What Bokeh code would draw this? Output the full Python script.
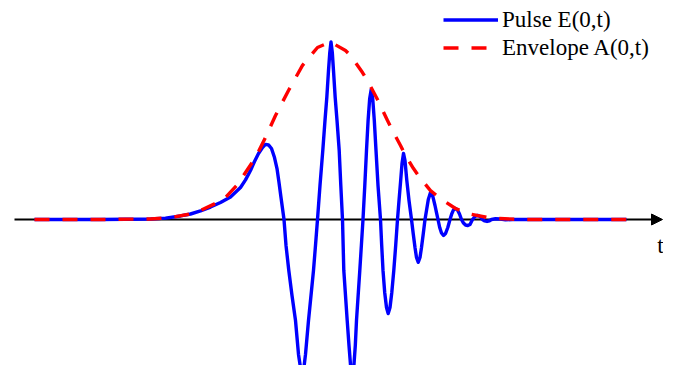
from bokeh.plotting import figure
from bokeh.models import Range1d, Arrow, NormalHead, Label, Legend, LegendItem
from bokeh.embed import file_html
from bokeh.resources import INLINE

# ---- data (t in arbitrary units, field normalised) ----
pulse_t = [-29.6, -23.0, -18.0, -16.5, -15.0, -14.0, -13.0, -12.0, -11.0, -10.0,
           -9.0, -8.5, -8.0, -7.6, -7.2, -6.8, -6.5, -6.2, -5.9, -5.6,
           -5.35, -5.15, -4.95, -4.8, -4.65,
           -4.45, -4.17, -3.85, -3.5, -3.2, -3.0, -2.83, -2.66, -2.5, -2.2, -1.95, -1.7, -1.5, -1.3,
           -1.05, -0.77, -0.55, -0.37, -0.2, -0.07, 0.05, 0.18, 0.3, 0.47, 0.65, 0.87, 1.03, 1.2,
           1.33, 1.67, 1.85, 2.03, 2.17, 2.32, 2.48, 2.6, 2.93, 3.25,
           3.43, 3.6, 3.76, 3.92, 4.07, 4.22, 4.38, 4.55, 4.75, 5.0,
           5.12, 5.25, 5.42, 5.6, 5.77, 5.95, 6.13, 6.33, 6.52, 6.7,
           6.85, 7.0, 7.15, 7.3, 7.45, 7.63, 7.85, 8.1,
           8.27, 8.45, 8.6, 8.77, 8.95, 9.1, 9.28, 9.45,
           9.6, 9.78, 10.0, 10.23, 10.45, 10.6, 10.75,
           10.92, 11.1, 11.3, 11.5, 11.73, 11.95,
           12.12, 12.3, 12.5, 12.7, 12.9, 13.1,
           13.3, 13.5, 13.73, 13.95, 14.2,
           14.45, 14.7, 14.95, 15.2,
           15.4, 15.65, 15.9, 16.1, 16.5, 17.0, 17.5, 18.2, 23.0, 29.6]
pulse_E = [0.0, 0.0, 0.003, 0.008, 0.020, 0.031, 0.048, 0.070, 0.096, 0.127,
           0.180, 0.223, 0.276, 0.327, 0.372, 0.406, 0.423, 0.420, 0.400, 0.349,
           0.287, 0.208, 0.124, 0.062, 0.0,
           -0.146, -0.287, -0.428, -0.569, -0.760, -0.835, -0.859, -0.835, -0.760, -0.569, -0.428, -0.287, -0.146, 0.0,
           0.192, 0.389, 0.558, 0.687, 0.839, 0.941, 1.0, 0.941, 0.839, 0.687, 0.558, 0.389, 0.192, 0.0,
           -0.287, -0.569, -0.710, -0.839, -0.896, -0.839, -0.710, -0.569, -0.287, 0.0,
           0.192, 0.389, 0.558, 0.682, 0.732, 0.682, 0.558, 0.389, 0.192, 0.0,
           -0.146, -0.287, -0.411, -0.496, -0.530, -0.496, -0.411, -0.287, -0.146, 0.0,
           0.107, 0.208, 0.315, 0.372, 0.332, 0.220, 0.107, 0.0,
           -0.079, -0.158, -0.214, -0.241, -0.214, -0.158, -0.079, 0.0,
           0.051, 0.113, 0.152, 0.130, 0.079, 0.039, 0.0,
           -0.045, -0.076, -0.090, -0.079, -0.045, 0.0,
           0.031, 0.054, 0.062, 0.054, 0.031, 0.0,
           -0.020, -0.031, -0.034, -0.028, 0.0,
           0.017, 0.023, 0.017, 0.0,
           -0.008, -0.011, -0.007, 0.0, 0.004, 0.003, -0.002, 0.0, 0.0, 0.0]

env_t = [-29.6, -23.0, -18.0, -16.0, -14.3, -13.0, -11.7, -10.5, -9.3, -8.5,
         -7.5, -6.5, -5.5, -4.2, -2.8, -1.3, 0.0, 1.5, 2.0, 3.2,
         3.8, 4.7, 5.7, 6.2, 7.0, 7.5, 8.3, 9.0, 10.0, 11.0,
         12.5, 13.7, 16.0, 19.0, 23.0, 29.7]
env_A = [0.0, 0.0, 0.003, 0.011, 0.028, 0.051, 0.085, 0.124, 0.197, 0.265,
         0.349, 0.462, 0.586, 0.727, 0.868, 0.969, 1.0, 0.952, 0.924, 0.828,
         0.772, 0.676, 0.558, 0.501, 0.417, 0.361, 0.287, 0.231, 0.163, 0.118,
         0.062, 0.034, 0.008, 0.0, 0.0, 0.0]

labels = ["Pulse E(0,t)", "Envelope A(0,t)"]
axis_label = "t"

SERIF = "Liberation Serif"

p = figure(width=663, height=365, output_backend="svg", toolbar_location=None,
           x_range=Range1d(-33.0, 33.3), y_range=Range1d(-0.8225, 1.2338),
           x_axis_type=None, y_axis_type=None, min_border=0,
           outline_line_color=None, background_fill_color="white")
p.grid.visible = False

# horizontal time axis with arrow
arrow = Arrow(x_start=-31.6, y_start=0, x_end=33.2, y_end=0,
              line_color="black", line_width=2, level="underlay",
              end=NormalHead(size=11, fill_color="black", line_color="black", line_width=1))
p.add_layout(arrow)
p.add_layout(Label(x=33.0, y=-0.146, text=axis_label, text_align="center",
                   text_baseline="alphabetic", text_font=SERIF, text_font_size="23px",
                   text_color="black"))

r1 = p.line(pulse_t, pulse_E, line_color="#0000FF", line_width=3.4, line_join="round")
r2 = p.line(env_t, env_A, line_color="#FF0000", line_width=3.4, line_dash="15 13")

legend = Legend(items=[LegendItem(label=labels[0], renderers=[r1]),
                       LegendItem(label=labels[1], renderers=[r2])],
                location=(443, 304), glyph_width=55, glyph_height=27, label_height=27,
                label_standoff=4, spacing=1, padding=0, margin=0,
                border_line_alpha=0, background_fill_alpha=0,
                label_text_font=SERIF, label_text_font_size="23px", label_text_color="black")
p.add_layout(legend)

open("out.html", "w").write(file_html(p, INLINE))
